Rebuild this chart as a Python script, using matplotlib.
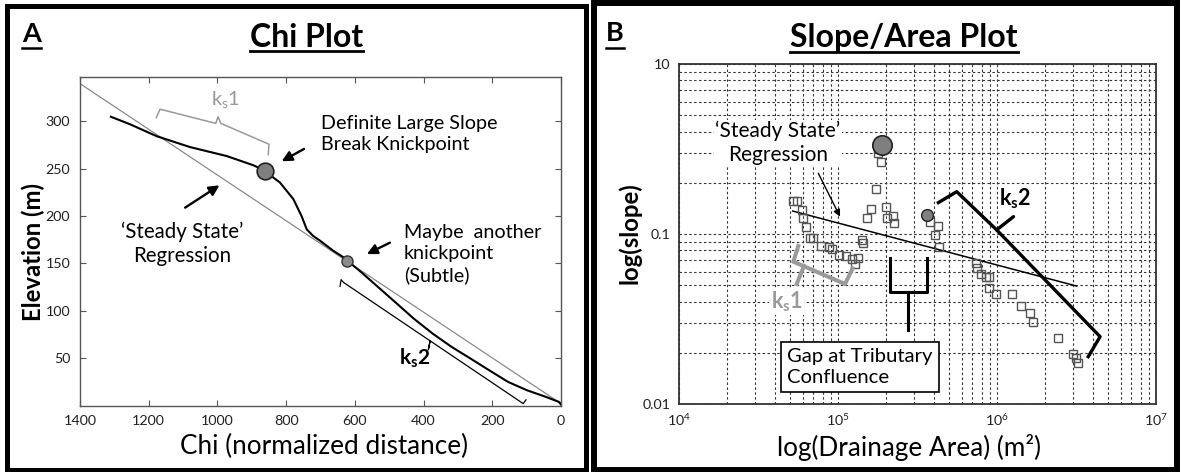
import matplotlib
matplotlib.use("Agg")
import matplotlib.pyplot as plt
from matplotlib.patches import Rectangle
from matplotlib.lines import Line2D
from matplotlib.ticker import LogLocator, NullFormatter, FixedLocator

plt.rcParams['font.family'] = ['Lato', 'DejaVu Sans']
plt.rcParams['mathtext.fontset'] = 'custom'
plt.rcParams['mathtext.rm'] = 'Lato'
plt.rcParams['mathtext.it'] = 'Lato:italic'
plt.rcParams['mathtext.bf'] = 'Lato:bold'

# ---------------- Panel A data (Chi plot) ----------------
chi_profile = [1310, 1254, 1177, 1080, 973, 895, 861, 837, 818, 779, 755, 740, 721, 701,
               663, 633, 622, 581, 537, 482, 428, 373, 318, 263, 209, 154, 99, 44, 6, 0]
elev_profile = [305, 297, 284.5, 273, 263.5, 253.7, 248, 240.7, 235.5, 218, 200, 186, 179, 174,
                163.5, 156.5, 153, 140.7, 126.6, 109, 91.6, 75.8, 61.8, 49.5, 37.2, 24.9, 16.1, 9.1, 3.8, 1]
chi_regression = [1400, 0]
elev_regression = [340, 2]
chi_knick = [861, 622]
elev_knick = [248, 153]
chi_ks1_bracket = [1178, 1167, 1005, 998, 990, 850, 852]
elev_ks1_bracket = [304, 313, 298, 305, 298, 276, 265]
chi_ks2_bracket = [643, 640, 633, 381, 386, 381, 110, 102]
elev_ks2_bracket = [126, 133, 130, 68.3, 59, 68.3, 2, 6]
chi_xticks = [1400, 1200, 1000, 800, 600, 400, 200, 0]
elev_yticks = [50, 100, 150, 200, 250, 300]

# ---------------- Panel B data (Slope/Area plot) ----------------
area = [5.19e4, 5.50e4, 5.91e4, 6.05e4, 6.29e4, 6.67e4, 7.0e4, 7.79e4, 8.81e4, 9.13e4,
        1.01e5, 1.13e5, 1.22e5, 1.34e5, 1.28e5, 1.41e5, 1.43e5, 1.52e5, 1.61e5, 1.74e5,
        2.00e5, 2.02e5, 2.21e5, 2.25e5, 1.79e5, 1.86e5, 3.79e5, 4.28e5, 4.08e5, 4.34e5,
        7.38e5, 7.45e5, 7.89e5, 8.53e5, 8.95e5, 8.95e5, 9.86e5, 1.25e6, 1.42e6, 1.61e6,
        1.69e6, 2.43e6, 3.02e6, 3.14e6, 3.25e6]
slope = [0.157, 0.156, 0.138, 0.124, 0.110, 0.0944, 0.0944, 0.085, 0.0842, 0.0812,
         0.0752, 0.0743, 0.0710, 0.0720, 0.0667, 0.0922, 0.0881, 0.125, 0.140, 0.183,
         0.144, 0.124, 0.128, 0.116, 0.298, 0.266, 0.118, 0.111, 0.0986, 0.0835,
         0.0673, 0.0629, 0.0582, 0.0561, 0.0561, 0.0480, 0.0443, 0.0443, 0.0377, 0.0344,
         0.0302, 0.0243, 0.0197, 0.0186, 0.0175]
area_knick = [1.88e5, 3.61e5]
slope_knick = [0.334, 0.129]
area_regression = [5.19e4, 3.17e6]
slope_regression = [0.1365, 0.0494]
area_ks2_bracket = [4.28e5, 5.58e5, 9.95e5, 4.45e6, 3.75e6]
slope_ks2_bracket = [0.153, 0.1774, 0.1057, 0.0249, 0.0190]
area_ks2_nub = [9.95e5, 1.27e6]
slope_ks2_nub = [0.1057, 0.1265]
area_ks1_bracket = [5.62e4, 5.24e4, 1.107e5, 1.236e5]
slope_ks1_bracket = [0.0849, 0.0687, 0.0508, 0.0628]
area_ks1_nub = [6.11e4, 5.50e4]
slope_ks1_nub = [0.0649, 0.0508]
area_gap = [2.12e5, 2.12e5, 3.61e5, 3.61e5]
slope_gap = [0.0720, 0.0458, 0.0458, 0.0720]
area_gap_stem = [2.75e5, 2.75e5]
slope_gap_stem = [0.0458, 0.0272]
area_xticks = [1e4, 1e5, 1e6, 1e7]
slope_yticks = [0.01, 0.1, 1]
slope_yticklabels = ['0.01', '0.1', '10']

W, H = 1182, 472
fig = plt.figure(figsize=(W / 100, H / 100), dpi=100)


def px_rect(l, t, r, b):
    return [l / W, 1 - b / H, (r - l) / W, (b - t) / H]


ANN = 14.2

# ================= Panel A =================
axA = fig.add_axes(px_rect(80, 77, 561, 405.5))
axA.plot(chi_regression, elev_regression, color='#8a8a8a', lw=0.9, zorder=2)
axA.plot(chi_profile, elev_profile, color='black', lw=1.5, zorder=3)
axA.plot(chi_ks1_bracket, elev_ks1_bracket, color='#999999', lw=1.1, zorder=2)
axA.plot(chi_ks2_bracket, elev_ks2_bracket, color='black', lw=0.9, zorder=2)
axA.plot(chi_knick[:1], elev_knick[:1], 'o', ms=12, mfc='#7f7f7f', mec='#222222', mew=1.2, zorder=4)
axA.plot(chi_knick[1:], elev_knick[1:], 'o', ms=8, mfc='#8c8c8c', mec='#333333', mew=1.0, zorder=4)
axA.set_xlim(1400, 0)
axA.set_ylim(0, 347)
axA.set_xticks(chi_xticks)
axA.set_yticks(elev_yticks)
axA.tick_params(direction='in', length=4, width=0.8, top=True, right=True,
                labelsize=10.3, color='#555555', labelcolor='#222222', pad=7)
for s in axA.spines.values():
    s.set_color('#555555')
    s.set_linewidth(1.0)
axA.set_xlabel('Chi (normalized distance)', fontsize=18.8)
axA.xaxis.label.set_va('center')
axA.xaxis.set_label_coords(0.5065, -0.126)
axA.set_ylabel('Elevation (m)', fontsize=17.2, fontweight='bold')
axA.yaxis.label.set_va('center')
axA.yaxis.set_label_coords(-0.0977, 0.468)

axA.text(975, 323, r'k$_\mathregular{s}$1', color='#999999', fontsize=14.5, ha='center', va='center')
axA.text(425, 49.5, r'k$_\mathbf{s}$2', color='black', fontsize=15, fontweight='bold', ha='center', va='center')
axA.text(699, 287, 'Definite Large Slope\nBreak Knickpoint', fontsize=ANN, ha='left', va='center', linespacing=1.25)
axA.text(1104, 170.5, '\u2018Steady State\u2019\nRegression', fontsize=ANN + 0.6, ha='center', va='center',
         multialignment='center', linespacing=1.25)
axA.text(457, 160, 'Maybe  another\nknickpoint\n(Subtle)', fontsize=ANN, ha='left', va='center', linespacing=1.28)
arrow_kw = dict(arrowstyle='-|>', color='black', lw=1.7, mutation_scale=15, shrinkA=0, shrinkB=0)
axA.annotate('', xy=(813, 258), xytext=(748, 271), arrowprops=arrow_kw)
axA.annotate('', xy=(994, 232.6), xytext=(1094, 209), arrowprops=arrow_kw)
axA.annotate('', xy=(565, 160), xytext=(498, 172), arrowprops=arrow_kw)

# ================= Panel B =================
axB = fig.add_axes(px_rect(679, 64, 1156, 404))
axB.set_xscale('log')
axB.set_yscale('log')
axB.set_xlim(1e4, 1e7)
axB.set_ylim(0.01, 1)
axB.xaxis.set_major_locator(FixedLocator(area_xticks))
axB.xaxis.set_minor_locator(LogLocator(base=10, subs=range(2, 10)))
axB.xaxis.set_minor_formatter(NullFormatter())
axB.yaxis.set_major_locator(FixedLocator(slope_yticks))
axB.set_yticklabels(slope_yticklabels)
axB.yaxis.set_minor_locator(LogLocator(base=10, subs=range(2, 10)))
axB.yaxis.set_minor_formatter(NullFormatter())
axB.grid(True, which='both', color='#333333', lw=0.8, ls=(0, (2.2, 2.2)), zorder=0)
axB.set_axisbelow(True)
axB.tick_params(which='both', direction='in', length=0, labelsize=10.3, labelcolor='#222222', pad=6)
for s in axB.spines.values():
    s.set_color('#333333')
    s.set_linewidth(1.3)

axB.plot(area_regression, slope_regression, color='black', lw=1.1, zorder=3)
axB.plot(area, slope, 's', ms=6.2, mfc='none', mec='#555555', mew=1.0, zorder=4)
axB.plot(area_knick[:1], slope_knick[:1], 'o', ms=14, mfc='#7f7f7f', mec='#222222', mew=1.2, zorder=5)
axB.plot(area_knick[1:], slope_knick[1:], 'o', ms=8.5, mfc='#7f7f7f', mec='#222222', mew=1.0, zorder=5)
axB.plot(area_ks2_bracket, slope_ks2_bracket, color='black', lw=2.4, zorder=5, solid_joinstyle='round')
axB.plot(area_ks2_nub, slope_ks2_nub, color='black', lw=2.4, zorder=5, solid_capstyle='round')
axB.plot(area_ks1_bracket, slope_ks1_bracket, color='#9a9a9a', lw=2.9, zorder=5)
axB.plot(area_ks1_nub, slope_ks1_nub, color='#9a9a9a', lw=2.9, zorder=5)
axB.plot(area_gap, slope_gap, color='black', lw=2.2, zorder=5)
axB.plot(area_gap_stem, slope_gap_stem, color='black', lw=2.2, zorder=5)

axB.text(4.2e4, 0.342, '\u2018Steady State\u2019\nRegression', fontsize=ANN + 0.8, ha='center', va='center',
         multialignment='center', linespacing=1.25, zorder=6,
         bbox=dict(facecolor='white', edgecolor='none', pad=1))
axB.annotate('', xy=(1.03e5, 0.1265), xytext=(7.52e4, 0.2275),
             arrowprops=dict(arrowstyle='-|>', color='black', lw=1.0, mutation_scale=10, shrinkA=0, shrinkB=0),
             zorder=6)
axB.text(4.75e4, 0.040, r'k$_\mathbf{s}$1', color='#9a9a9a', fontsize=15.5, fontweight='bold',
         ha='center', va='center', zorder=6, bbox=dict(facecolor='white', edgecolor='none', pad=1))
axB.text(1.30e6, 0.162, r'k$_\mathbf{s}$2', color='black', fontsize=15.5, fontweight='bold',
         ha='center', va='center', zorder=6, bbox=dict(facecolor='white', edgecolor='none', pad=1))
axB.text(4.80e4, 0.01656, 'Gap at Tributary\nConfluence', fontsize=ANN + 0.4, ha='left', va='center',
         linespacing=1.28, zorder=7,
         bbox=dict(boxstyle='square,pad=0.3', facecolor='white', edgecolor='black', lw=1.2))

axB.set_xlabel('log(Drainage Area) (m\u00b2)', fontsize=18.8)
axB.xaxis.label.set_va('center')
axB.xaxis.set_label_coords(0.482, -0.129)
axB.set_ylabel('log(slope)', fontsize=17.2, fontweight='bold')
axB.yaxis.label.set_va('center')
axB.yaxis.set_label_coords(-0.1038, 0.503)

# ================= Titles, panel letters, borders =================
tA = fig.text(306.7 / W, 1 - 37.5 / H, 'Chi Plot', fontsize=23, fontweight='bold', ha='center', va='center')
tB = fig.text(904 / W, 1 - 37.5 / H, 'Slope/Area Plot', fontsize=23, fontweight='bold', ha='center', va='center')
lA = fig.text(31.6 / W, 1 - 33.5 / H, 'A', fontsize=19.5, fontweight='bold', ha='center', va='center')
lB = fig.text(615 / W, 1 - 33 / H, 'B', fontsize=19.5, fontweight='bold', ha='center', va='center')

fig.add_artist(Rectangle((7 / W, 1 - 469.5 / H), 579 / W, 464 / H, transform=fig.transFigure,
                         fill=False, ec='black', lw=3.6))
fig.add_artist(Rectangle((593.5 / W, 1 - 470 / H), 583 / W, 467 / H, transform=fig.transFigure,
                         fill=False, ec='black', lw=4.3))

fig.canvas.draw()
renderer = fig.canvas.get_renderer()
for t, ypx, lw in [(tA, 51, 2.0), (tB, 51.5, 2.0), (lA, 47.5, 1.8), (lB, 48, 1.8)]:
    bb = t.get_window_extent(renderer)
    fig.add_artist(Line2D([bb.x0 / W, bb.x1 / W], [1 - ypx / H, 1 - ypx / H],
                          transform=fig.transFigure, color='black', lw=lw))

fig.savefig('out.png', dpi=100)
